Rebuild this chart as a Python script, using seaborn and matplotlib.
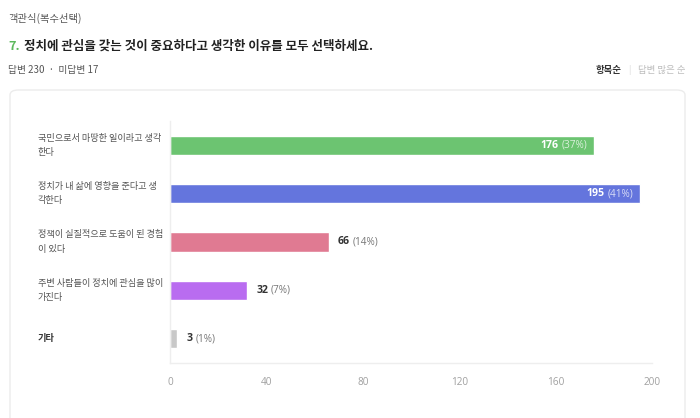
import matplotlib
matplotlib.use("Agg")
import matplotlib.pyplot as plt
import matplotlib.transforms as mtransforms
from matplotlib.patches import FancyBboxPatch
import seaborn as sns
import pandas as pd

# ---- data ----
categories = [
    "국민으로서 마땅한 일이라고 생각\n한다",
    "정치가 내 삶에 영향을 준다고 생\n각한다",
    "정책이 실질적으로 도움이 된 경험\n이 있다",
    "주변 사람들이 정치에 관심을 많이\n가진다",
    "기타",
]
counts = [176, 195, 66, 32, 3]
percents = ["37%", "41%", "14%", "7%", "1%"]
bar_colors = ["#6cc471", "#6475dd", "#e07a92", "#b96cf0", "#c8c8c8"]
x_ticks = [0, 40, 80, 120, 160, 200]
inside_label = [True, True, False, False, False]

title_num = "7."
title_text = "정치에 관심을 갖는 것이 중요하다고 생각한 이유를 모두 선택하세요."
type_text = "객관식(복수선택)"
resp_text = "답변 230  ·  미답변 17"
sort_active = "항목순"
sort_inactive = "답변 많은 순"

sns.set_theme(style="white")
KR = ["Noto Sans CJK KR", "DejaVu Sans"]
NUM = ["Open Sans", "Noto Sans CJK KR", "DejaVu Sans"]
plt.rcParams["font.family"] = KR

W, H = 700, 418
fig = plt.figure(figsize=(W / 100, H / 100), dpi=100)
fig.patch.set_facecolor("white")

# card background
card = FancyBboxPatch((10 / W, -20 / H), 675 / W, (418 - 90 + 20) / H,
                      boxstyle="round,pad=0,rounding_size=0.012",
                      transform=fig.transFigure, facecolor="white",
                      edgecolor="#ececec", linewidth=1.0, zorder=-5)
fig.patches.append(card)

# header texts
fig.text(8 / W, 1 - 18 / H, type_text, fontsize=7.4, color="#555555", va="center", family=KR)
fig.text(8 / W, 1 - 46 / H, title_num, fontsize=9.2, color="#5cb85c",
         fontweight="bold", va="center", family=KR)
fig.text(24 / W, 1 - 46 / H, title_text, fontsize=9.0, color="#222222",
         fontweight="bold", va="center", family=KR)
fig.text(8 / W, 1 - 70 / H, resp_text, fontsize=7.0, color="#555555", va="center", family=KR)
fig.text(622 / W, 1 - 70 / H, sort_active, fontsize=6.8, color="#333333",
         fontweight="bold", va="center", ha="right", family=KR)
fig.text(629 / W, 1 - 70 / H, "|", fontsize=6.5, color="#dddddd", va="center", ha="center", family=KR)
fig.text(685 / W, 1 - 70 / H, sort_inactive, fontsize=6.8, color="#bbbbbb",
         va="center", ha="right", family=KR)

# axes
ax_left, ax_right = 170, 652
ax_top, ax_bottom = 121, 363
ax = fig.add_axes([ax_left / W, 1 - ax_bottom / H, (ax_right - ax_left) / W, (ax_bottom - ax_top) / H])
ax.set_facecolor("none")
ax.set_zorder(2)

df = pd.DataFrame({"category": categories, "count": counts})
sns.barplot(data=df, y="category", x="count", hue="category", palette=bar_colors,
            orient="h", width=0.4, legend=False, ax=ax, saturation=1)

ax.set_xlim(0, 200)
ax.set_ylim(len(categories) - 0.5, -0.5)
ax.set_xticks(x_ticks)
ax.set_xticklabels([str(t) for t in x_ticks], fontsize=7.2, color="#a0a0a0", family=NUM)
ax.tick_params(axis="x", length=0, pad=10)
ax.set_yticks([])
ax.set_xlabel("")
ax.set_ylabel("")
for s in ["top", "right"]:
    ax.spines[s].set_visible(False)
for s in ["left", "bottom"]:
    ax.spines[s].set_color("#eeeeee")
    ax.spines[s].set_linewidth(1.0)

# category labels
trans = mtransforms.blended_transform_factory(fig.transFigure, ax.transData)
for i, lab in enumerate(categories):
    is_other = lab == "기타"
    ax.text(38 / W, i, lab, transform=trans, fontsize=6.6, va="center", ha="left",
            color="#333333" if is_other else "#555555",
            fontweight="bold" if is_other else "normal",
            linespacing=1.75, family=KR, clip_on=False)

# value labels
fig.canvas.draw()
renderer = fig.canvas.get_renderer()
for i, (c, p, inside) in enumerate(zip(counts, percents, inside_label)):
    if inside:
        pt = ax.annotate(f"({p})", xy=(c, i), xytext=(-7, 0), textcoords="offset pixels",
                         ha="right", va="center", fontsize=7.2, color="white", alpha=0.75,
                         family=NUM)
        bb = pt.get_window_extent(renderer)
        ax.annotate(str(c), xy=(c, i), xytext=(-7 - bb.width - 3, 0), textcoords="offset pixels",
                    ha="right", va="center", fontsize=7.6, color="white", fontweight="bold",
                    family=NUM)
    else:
        nt = ax.annotate(str(c), xy=(c, i), xytext=(9, 0), textcoords="offset pixels",
                         ha="left", va="center", fontsize=7.6, color="#333333",
                         fontweight="bold", family=NUM)
        bb = nt.get_window_extent(renderer)
        ax.annotate(f"({p})", xy=(c, i), xytext=(9 + bb.width + 3, 0), textcoords="offset pixels",
                    ha="left", va="center", fontsize=7.2, color="#777777", family=NUM)

fig.savefig("out.png", dpi=100, facecolor="white")
